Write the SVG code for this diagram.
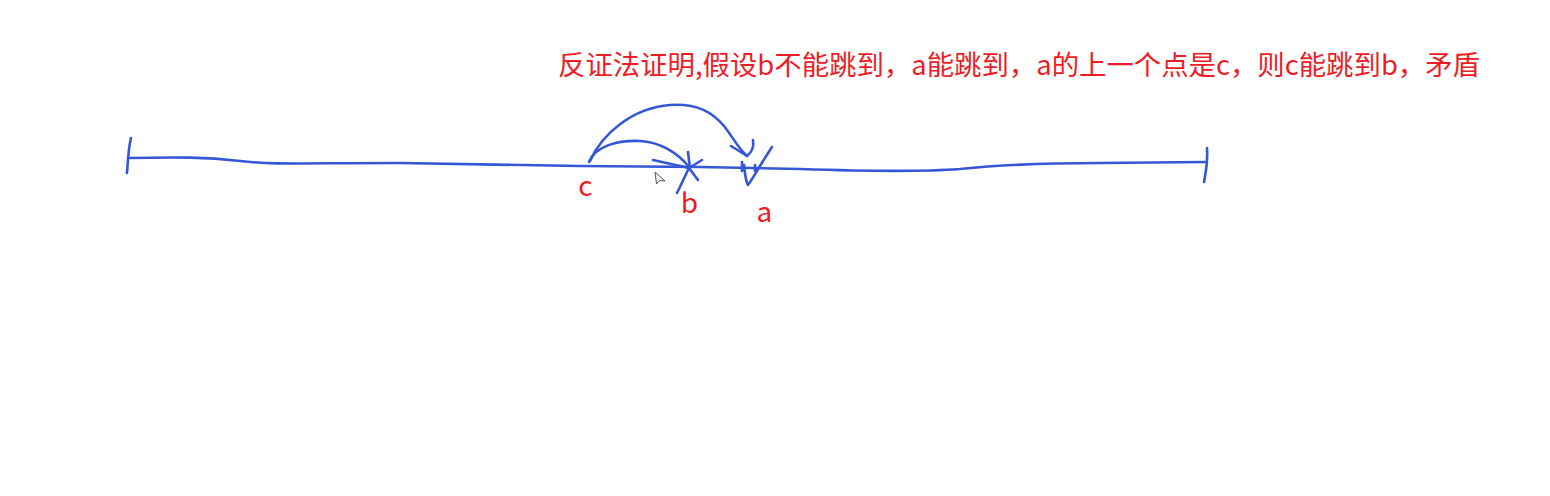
<svg xmlns="http://www.w3.org/2000/svg" width="1550" height="496" viewBox="0 0 1550 496">
<style>
.ink{fill:none;stroke:#3457d8;stroke-width:2.6;stroke-linecap:round;stroke-linejoin:round}
.lbl{fill:#ee1c25;font-family:"Noto Sans CJK SC","Liberation Sans",sans-serif;font-size:27px}
.pt{font-size:28px}
</style>
<rect width="1550" height="496" fill="#ffffff"/>
<g id="title">
<text class="lbl" x="558" y="75" textLength="922" lengthAdjust="spacingAndGlyphs">反证法证明,假设b不能跳到，a能跳到，a的上一个点是c，则c能跳到b，矛盾</text>
</g>
<g id="number-line">
<path class="ink" d="M128,158 C180,157 205,157 240,161 S300,163 400,163 L580,166 L700,167 L800,169 C860,171 920,172 960,169 C1000,165 1040,163 1100,163 L1205,162"/>
<path class="ink" d="M131,138 C128,150 128,162 127,173"/>
<path class="ink" d="M1207,148 C1208,160 1206,172 1204,182"/>
</g>
<g id="point-c">
<text class="lbl pt" x="585.5" y="196" text-anchor="middle">c</text>
</g>
<g id="point-b">
<path class="ink" d="M653,160 L689,168 M688,152 L690,168 M702,160 L689,168 L698,180 M689,168 L677,193"/>
<text class="lbl pt" x="689.5" y="213" text-anchor="middle">b</text>
</g>
<g id="point-a">
<path class="ink" d="M742,162 L742,171 M755,165 L755,171 M744,165 C745,175 746,182 748,185 C752,180 760,165 772,147"/>
<text class="lbl pt" x="764.5" y="222" text-anchor="middle">a</text>
</g>
<g id="cursor">
<path d="M655,172 L656.5,184 L659.5,180.5 L665,181 Z" fill="#f4f4f4" stroke="#555" stroke-width="1"/>
</g>
<g id="connectors">
<path class="ink" d="M589,162 C595,146 618,140 640,141 C660,142 678,153 689,167"/>
<path class="ink" d="M590,161 C602,134 632,108 670,105 C698,103 713,113 724,126 C732,136 738,148 747,156"/>
<path class="ink" d="M731,146 L747,156 C752,152 754,146 753,140"/>
</g>
</svg>
